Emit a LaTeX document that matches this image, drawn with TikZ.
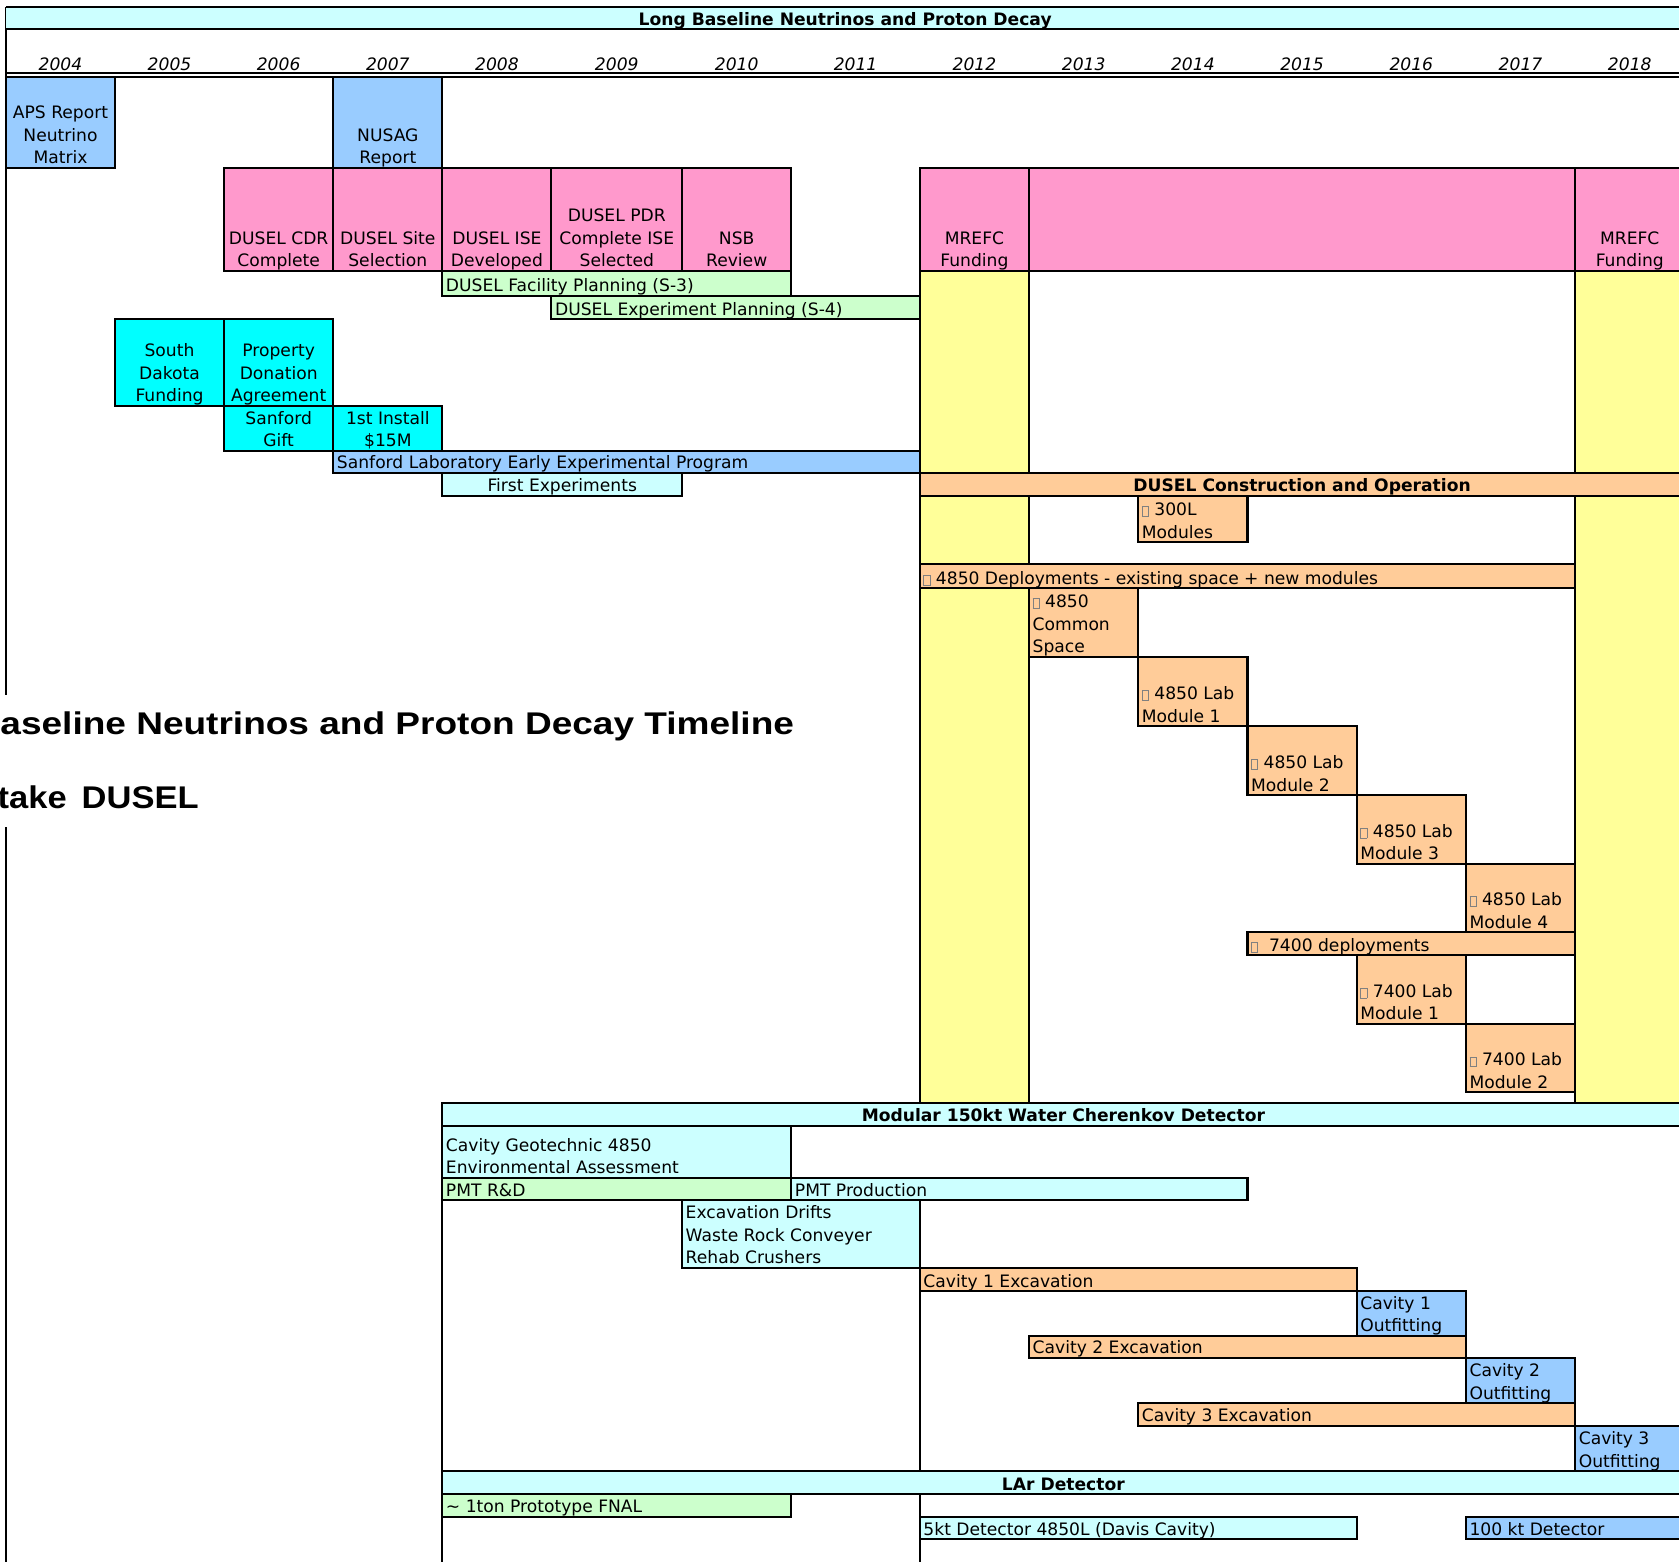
\documentclass[tikz,border=0pt]{standalone}
\usepackage{fontspec}
\setmainfont{DejaVu Sans}
\newfontfamily\bigtitlefont[FakeStretch=1.18]{Liberation Sans}
\newfontfamily\subtitlefont[FakeStretch=1.1]{Liberation Sans}

\definecolor{lcyan}{HTML}{CCFFFF}
\definecolor{pinkc}{HTML}{FF99CC}
\definecolor{lblue}{HTML}{99CCFF}
\definecolor{aqua}{HTML}{00FFFF}
\definecolor{lgreen}{HTML}{CCFFCC}
\definecolor{lyellow}{HTML}{FFFF99}
\definecolor{peach}{HTML}{FFCC99}

\newcommand\cellfont{\fontsize{8pt}{10.6pt}\selectfont}
% stacked lines, baseline of the box on the last line
\newcommand\ctext[1]{\begin{tabular}[b]{@{}c@{}}#1\end{tabular}}
\newcommand\ltext[1]{\begin{tabular}[b]{@{}l@{}}#1\end{tabular}}
% small hollow bullet box
\newcommand\hollowmark{{\color{gray}\setlength{\fboxrule}{0.35pt}\setlength{\fboxsep}{0pt}\raisebox{-0.3pt}{\fbox{\rule{0pt}{4.2pt}\hspace{2.6pt}}}}}

\tikzset{
  box/.style={draw=black, line width=0.95pt},
  celltext/.style={inner sep=0pt, font=\cellfont, text=black},
  headtext/.style={inner sep=0pt, font=\cellfont\bfseries, text=black},
  yeartext/.style={inner sep=0pt, font=\cellfont\itshape, anchor=base},
  bigtitle/.style={inner sep=0pt, anchor=base west,
    font=\bigtitlefont\bfseries\fontsize{14.65pt}{17pt}\selectfont},
  subtitle/.style={inner sep=0pt, anchor=base west,
    font=\subtitlefont\bfseries\fontsize{14.65pt}{17pt}\selectfont},
}

% cell with centred text: name, x1, y1, x2, y2, fill, text
\newcommand\cellc[7]{%
  \path[box, fill=#6] (#2,#3) rectangle (#4,#5);
  \node[celltext, anchor=base] (#1) at ({(#2+#4)/2},{#5-3.6}) {\ctext{#7}};}
% cell with left-aligned text
\newcommand\celll[7]{%
  \path[box, fill=#6] (#2,#3) rectangle (#4,#5);
  \node[celltext, anchor=base west] (#1) at ({#2+3},{#5-3.6}) {\ltext{#7}};}
% section header band with bold centred text
\newcommand\cellhead[7]{%
  \path[box, fill=#6] (#2,#3) rectangle (#4,#5);
  \node[headtext, anchor=base] (#1) at ({(#2+#4)/2},{#5-3.6}) {#7};}

\begin{document}
\begin{tikzpicture}[x=0.5pt, y=-0.5pt]
\useasboundingbox (0,0) rectangle (1568,1459);
\clip (0,0) rectangle (1568,1459);

% frame lines
\draw[box] (5.6,6.8) -- (5.6,1459);
\draw[box] (413.1,1030) -- (413.1,1459);
\draw[box] (859,1121) -- (859,1459);

% funding columns
\path[box, fill=lyellow] (859,252.8) rectangle (961,1030);
\path[box] (961,252.8) rectangle (1471,1030);
\path[box, fill=lyellow] (1471,252.8) rectangle (1573,1030);

% title band
\path[fill=lcyan] (5.6,6.8) rectangle (1573,27.1);
\draw[line width=1.1pt] (5.6,6.8) -- (1573,6.8);
\draw[line width=0.95pt] (5.6,27.1) -- (1573,27.1);
\node[headtext, anchor=base] (band) at (789.3,23.5) {Long Baseline Neutrinos and Proton Decay};

% years
\foreach \xc/\yr in {56.5/2004, 158.3/2005, 260.2/2006, 362.2/2007, 464.1/2008,
  576/2009, 688/2010, 799/2011, 910/2012, 1012/2013, 1114/2014, 1216/2015,
  1318/2016, 1420/2017, 1522/2018}
  \node[yeartext] (y\yr) at (\xc,65.4) {\yr};
\draw[line width=1pt] (5.6,68.4) -- (1573,68.4);
\draw[line width=0.8pt] (5.6,71.6) -- (1573,71.6);

% reports and reviews
\cellc{aps}{5.6}{71.6}{107.4}{156.6}{lblue}{APS Report\\Neutrino\\Matrix}
\cellc{nusag}{311.3}{71.6}{413.1}{156.6}{lblue}{NUSAG\\Report}
\cellc{cdr}{209.2}{156.6}{311.3}{252.8}{pinkc}{DUSEL CDR\\Complete}
\cellc{site}{311.3}{156.6}{413.1}{252.8}{pinkc}{DUSEL Site\\Selection}
\cellc{ise}{413.1}{156.6}{515}{252.8}{pinkc}{DUSEL ISE\\Developed}
\cellc{pdr}{515}{156.6}{637}{252.8}{pinkc}{DUSEL PDR\\Complete ISE\\Selected}
\cellc{nsb}{637}{156.6}{739}{252.8}{pinkc}{NSB\\Review}
\cellc{mrefca}{859}{156.6}{961}{252.8}{pinkc}{MREFC\\Funding}
\path[box, fill=pinkc] (961,156.6) rectangle (1471,252.8);
\cellc{mrefcb}{1471}{156.6}{1573}{252.8}{pinkc}{MREFC\\Funding}
\celll{facplan}{413.1}{252.8}{739}{276.1}{lgreen}{DUSEL Facility Planning (S-3)}
\celll{expplan}{515}{276.1}{859}{297.9}{lgreen}{DUSEL Experiment Planning (S-4)}

% Sanford laboratory
\cellc{sdfund}{107.4}{297.9}{209.2}{378.9}{aqua}{South\\Dakota\\Funding}
\cellc{donation}{209.2}{297.9}{311.3}{378.9}{aqua}{Property\\Donation\\Agreement}
\cellc{gift}{209.2}{378.9}{311.3}{420.9}{aqua}{Sanford\\Gift}
\cellc{install}{311.3}{378.9}{413.1}{420.9}{aqua}{1st Install\\\$15M}
\celll{earlyprog}{311.3}{420.9}{859}{441.4}{lblue}{Sanford Laboratory Early Experimental Program}
\cellc{firstexp}{413.1}{441.4}{637}{462.9}{lcyan}{First Experiments}

% DUSEL construction
\cellhead{construction}{859}{441.4}{1573}{462.9}{peach}{DUSEL Construction and Operation}
\celll{mod300}{1063}{462.9}{1165}{506.2}{peach}{\hollowmark\ 300L\\Modules}
\celll{deploy4850}{859}{527}{1471}{549.1}{peach}{\hollowmark\ 4850 Deployments - existing space + new modules}
\celll{common}{961}{549.1}{1063}{613.3}{peach}{\hollowmark\ 4850\\Common\\Space}
\celll{laba}{1063}{613.3}{1165}{678}{peach}{\hollowmark\ 4850 Lab\\Module 1}
\celll{labb}{1165}{678}{1267}{742.5}{peach}{\hollowmark\ 4850 Lab\\Module 2}
\celll{labc}{1267}{742.5}{1369}{806.5}{peach}{\hollowmark\ 4850 Lab\\Module 3}
\celll{labd}{1369}{806.5}{1471}{870.4}{peach}{\hollowmark\ 4850 Lab\\Module 4}
\celll{deploy7400}{1165}{870.4}{1471}{891.9}{peach}{\hollowmark\ \ 7400 deployments}
\celll{deepa}{1267}{891.9}{1369}{956}{peach}{\hollowmark\ 7400 Lab\\Module 1}
\celll{deepb}{1369}{956}{1471}{1020}{peach}{\hollowmark\ 7400 Lab\\Module 2}

% water Cherenkov detector
\cellhead{wcd}{413.1}{1030.4}{1573}{1051.2}{lcyan}{Modular 150kt Water Cherenkov Detector}
\celll{geotech}{413.1}{1051.2}{739}{1099.8}{lcyan}{Cavity Geotechnic 4850\\Environmental Assessment}
\celll{pmtrd}{413.1}{1099.8}{739}{1120.7}{lgreen}{PMT R\&D}
\celll{pmtprod}{739}{1099.8}{1165}{1120.7}{lcyan}{PMT Production}
\celll{drifts}{637}{1120.7}{859}{1183.9}{lcyan}{Excavation Drifts\\Waste Rock Conveyer\\Rehab Crushers}
\celll{cavaexc}{859}{1183.9}{1267}{1205.6}{peach}{Cavity 1 Excavation}
\celll{cavaout}{1267}{1205.6}{1369}{1247.4}{lblue}{Cavity 1\\Outfitting}
\celll{cavbexc}{961}{1247.4}{1369}{1267.9}{peach}{Cavity 2 Excavation}
\celll{cavbout}{1369}{1267.9}{1471}{1310.6}{lblue}{Cavity 2\\Outfitting}
\celll{cavcexc}{1063}{1310.6}{1471}{1331.4}{peach}{Cavity 3 Excavation}
\celll{cavcout}{1471}{1331.4}{1573}{1373.8}{lblue}{Cavity 3\\Outfitting}

% liquid argon detector
\cellhead{lar}{413.1}{1373.8}{1573}{1395.5}{lcyan}{LAr Detector}
\celll{proto}{413.1}{1395.5}{739}{1416.4}{lgreen}{\textasciitilde\ 1ton Prototype FNAL}
\celll{fivekt}{859}{1416.4}{1267}{1437.5}{lcyan}{5kt Detector 4850L (Davis Cavity)}
\celll{hundredkt}{1369}{1416.4}{1573}{1437.5}{lblue}{100 kt Detector}

% chart title, running in from the left margin
\fill[white] (0,649) rectangle (745,772);
\node[bigtitle] (timeline) at (-119,685.5) {Long Baseline Neutrinos and Proton Decay Timeline};
\node[subtitle] (homestake) at (-110,754.6) {Homestake\hspace{2.5pt} DUSEL};
\end{tikzpicture}
\end{document}
